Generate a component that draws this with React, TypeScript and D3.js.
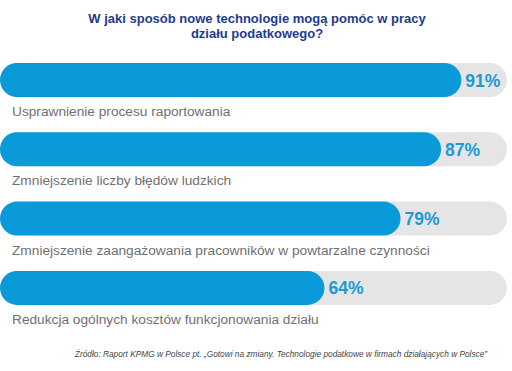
import React from 'react';
import * as d3 from 'd3';

const categories = [
  'Usprawnienie procesu raportowania',
  'Zmniejszenie liczby błędów ludzkich',
  'Zmniejszenie zaangażowania pracowników w powtarzalne czynności',
  'Redukcja ogólnych kosztów funkcjonowania działu',
];
const values = [91, 87, 79, 64];
const titleLines = ['W jaki sposób nowe technologie mogą pomóc w pracy', 'działu podatkowego?'];
const sourceNote =
  'Źródło: Raport KPMG w Polsce pt. „Gotowi na zmiany. Technologie podatkowe w firmach działających w Polsce”';

const W = 512;
const H = 371;
const barH = 34;

const App = () => {
  const x = d3.scaleLinear().domain([0, 100]).range([0, 507]);
  // bands: top of each bar, step ~69px
  const y = d3
    .scaleBand<string>()
    .domain(categories)
    .range([63, 63 + 69.3 * categories.length]);

  return (
    <svg
      width={W}
      height={H}
      style={{ position: 'absolute', left: 0, top: 0, background: '#fff' }}
      fontFamily="'Liberation Sans', Arial, sans-serif"
    >
      {titleLines.map((t, i) => (
        <text
          key={t}
          x={257}
          y={23 + i * 14.5}
          textAnchor="middle"
          fontSize={13}
          fontWeight="bold"
          fill="#1e3c8c"
        >
          {t}
        </text>
      ))}
      {categories.map((c, i) => {
        const top = y(c) as number;
        return (
          <g key={c}>
            <rect x={x(0)} y={top} width={x(100) - x(0)} height={barH} rx={barH / 2} fill="#e5e5e5" />
            <rect x={x(0)} y={top} width={x(values[i]) - x(0)} height={barH} rx={barH / 2} fill="#0a9ad9" />
            <text
              x={x(values[i]) + 4}
              y={top + barH / 2 + 6.5}
              fontSize={17.5}
              fontWeight="bold"
              fill="#1a9ad6"
            >
              {values[i]}%
            </text>
            <text x={12} y={top + 53} fontSize={13.7} fill="#707070">
              {c}
            </text>
          </g>
        );
      })}
      <text x={281} y={357} textAnchor="middle" fontSize={8.3} fontStyle="italic" fill="#444">
        {sourceNote}
      </text>
    </svg>
  );
};

export default App;
